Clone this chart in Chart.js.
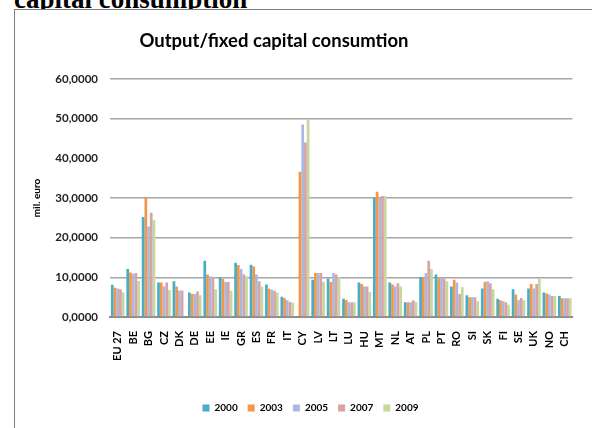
<!DOCTYPE html>
<html>
<head>
<meta charset="utf-8">
<script src="https://cdn.jsdelivr.net/npm/chart.js@4"></script>
<style>
html,body{margin:0;padding:0;background:#fff;width:592px;height:428px;overflow:hidden;position:relative;}
#head{position:absolute;left:14px;top:-15px;font:bold 27px "Liberation Serif",serif;color:#000;white-space:nowrap;line-height:28px;}
#frame{position:absolute;left:14px;top:9px;width:600px;height:430px;border-top:1px solid #7f7f7f;border-left:1px solid #7f7f7f;background:#fff;}
#wrap{position:absolute;left:15px;top:10px;width:577px;height:418px;}
#title{position:absolute;left:74px;width:400px;top:28px;text-align:center;font:bold 18.5px Lato,sans-serif;color:#000;white-space:nowrap;line-height:24px;}
</style>
</head>
<body>
<div id="head">capital consumption</div>
<div id="frame"></div>
<div id="wrap"><canvas id="c" width="577" height="418"></canvas></div>
<div id="title">Output/fixed capital consumtion</div>
<script>
const categories = ['EU 27','BE','BG','CZ','DK','DE','EE','IE','GR','ES','FR','IT','CY','LV','LT','LU','HU','MT','NL','AT','PL','PT','RO','SI','SK','FI','SE','UK','NO','CH'];
const years = ['2000','2003','2005','2007','2009'];
const s2000 = [8.1,12.1,25.2,8.7,9.0,6.2,14.2,10.0,13.7,13.2,8.2,5.1,null,9.4,9.7,4.6,8.7,30.0,8.7,3.7,10.1,10.7,7.7,5.5,7.2,4.6,7.0,7.2,6.2,5.3];
const s2003 = [7.4,11.2,30.0,8.7,7.7,5.8,10.7,9.6,13.1,12.7,7.1,4.7,36.6,11.1,8.8,4.3,8.3,31.6,8.2,3.7,10.1,9.8,9.4,5.0,8.8,4.2,5.7,8.3,5.9,4.7];
const s2005 = [7.2,10.9,22.8,7.7,6.7,5.8,10.3,8.8,12.1,10.7,6.9,4.2,48.5,11.1,11.1,3.7,7.7,30.0,7.7,3.7,11.1,9.8,8.7,5.0,9.0,4.0,4.2,7.2,5.7,4.7];
const s2007 = [7.0,11.1,26.3,8.7,6.7,6.4,10.0,8.8,10.8,9.0,6.6,3.8,44.0,11.1,10.7,3.7,7.7,30.5,8.5,4.2,14.2,9.7,5.8,5.0,8.5,3.7,4.8,8.3,5.3,4.7];
const s2009 = [6.2,9.1,24.4,6.8,null,5.5,7.0,6.6,10.3,7.7,6.2,3.6,50.0,8.9,10.1,3.7,6.3,30.5,7.7,3.8,12.1,9.0,7.5,4.0,7.0,3.1,4.2,9.7,5.3,4.7];
const yTicks = [0,10,20,30,40,50,60];

const colors = ['#4BACC6','#F79646','#A9B8DE','#D9A3A3','#C5D89E'];
const series = [s2000,s2003,s2005,s2007,s2009];

new Chart(document.getElementById('c'), {
  type: 'bar',
  data: {
    labels: categories,
    datasets: series.map((d,i)=>({
      label: years[i], data: d, backgroundColor: colors[i],
      borderWidth: 0, barPercentage: 1.0, categoryPercentage: 0.88
    }))
  },
  options: {
    animation: false, responsive: false,
    layout: {padding: {left: 16, right: 2, top: 69, bottom: 5}},
    plugins: {
      title: {display: false},
      legend: {position: 'bottom', labels: {boxWidth: 7, boxHeight: 7, padding: 10, color: '#000',
        font: {family: 'Lato', size: 10, weight: 'bold'}}},
      tooltip: {enabled: false}
    },
    scales: {
      x: {
        grid: {display: false, drawTicks: false},
        border: {display: true, color: '#8c8c8c', width: 2},
        ticks: {minRotation: 90, maxRotation: 90, autoSkip: false, color: '#000', padding: 14,
          font: {family: 'Lato', size: 11, weight: 'bold'}},
        afterFit: s => { s.height = 76; }
      },
      y: {
        min: 0, max: 60,
        afterBuildTicks: s => { s.ticks = yTicks.map(v=>({value:v})); },
        grid: {drawTicks: false, lineWidth: 1.5,
          color: ctx => (ctx.tick && ctx.tick.value === 40) ? 'rgba(0,0,0,0)' : '#a6a6a6'},
        border: {display: false},
        ticks: {padding: 12, color: '#222', font: {family: 'Lato', size: 11.5, weight: 'bold'},
          callback: v => v.toFixed(4).replace('.', ',')},
        title: {display: true, text: 'mil. euro', color: '#000', padding: {top: 0, bottom: 0},
          font: {family: 'Lato', size: 10, weight: 'bold'}},
        afterFit: s => { s.width = 79; }
      }
    }
  }
});
</script>
</body>
</html>
